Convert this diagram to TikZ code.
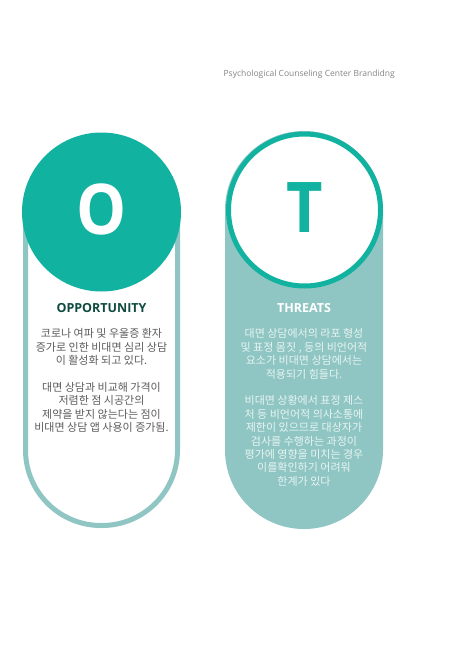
\documentclass[tikz,border=0pt]{standalone}
\usepackage{fontspec}
\setmainfont{Open Sans}
\newfontfamily\kofont{Noto Sans CJK KR}
\usepackage{xcolor}
\usetikzlibrary{positioning}
\definecolor{swotteal}{HTML}{12B2A0}
\definecolor{swotpale}{HTML}{8FC6C3}
\definecolor{swotdark}{HTML}{0E4A40}
\definecolor{swotgray}{HTML}{5C5C5C}
\definecolor{swotlight}{HTML}{E8F4F2}
\tikzset{
  letterdisc/.style={
    circle,
    fill=swotteal,
    draw=none,
    minimum size=159pt,
    inner sep=0pt,
  },
  letterring/.style={
    circle,
    fill=white,
    draw=swotteal,
    line width=5pt,
    minimum size=152pt,
    inner sep=0pt,
  },
  bigletter/.style={
    font=\bfseries\fontsize{70}{70}\selectfont,
    xscale=0.9,
    transform shape,
    inner sep=0pt,
  },
  headline/.style={
    font=\bfseries\fontsize{12.5}{14}\selectfont,
    inner sep=0pt,
  },
  bodytext/.style={
    align=center,
    inner sep=0pt,
    font=\kofont\fontsize{11}{13.4}\selectfont,
  }
}

\begin{document}
\begin{tikzpicture}[x=1pt, y={(0pt,-1pt)}]
  % Page
  \fill [white] (0,0) rectangle (457,646);
  \useasboundingbox (0,0) rectangle (457,646);

  % Header
  \node [anchor=base east, inner sep=0pt, font=\fontsize{8.5}{10}\selectfont, text=black!48]
        (brand) at (395,76) {Psychological Counseling Center Brandidng};

  % Capsules
  \draw [swotpale, line width=5pt, rounded corners=75.5pt]
        (25.5,136.5) rectangle (177.5,525.5);
  \fill [swotpale, rounded corners=79pt]
        (225,131) rectangle (383,529);

  % Opportunity
  \node [letterdisc] (oppDisc) at (101.5,212) {};
  \node [bigletter, text=white] (oppLetter) at (101.5,209) {O};
  \node [headline, text=swotdark] (oppHead) at (101.5,308) {OPPORTUNITY};
  \node [bodytext, text=swotgray, anchor=north] (oppText) at (101.5,328.5)
        {코로나 여파 및 우울증 환자\\
         증가로 인한 비대면 심리 상담\\
         이 활성화 되고 있다.\\[13.4pt]
         대면 상담과 비교해 가격이\\
         저렴한 점 시공간의\\
         제약을 받지 않는다는 점이\\
         비대면 상담 앱 사용이 증가됨.};

  % Threats
  \node [letterring] (thrDisc) at (304.5,210) {};
  \node [bigletter, text=swotteal] (thrLetter) at (304.5,208) {T};
  \node [headline, text=white] (thrHead) at (304,308) {THREATS};
  \node [bodytext, text=swotlight, anchor=north] (thrText) at (304,328.5)
        {대면 상담에서의 라포 형성\\
         및 표정 몸짓 , 등의 비언어적\\
         요소가 비대면 상담에서는\\
         적용되기 힘들다.\\[13.4pt]
         비대면 상황에서 표정 제스\\
         처 등 비언어적 의사소통에\\
         제한이 있으므로 대상자가\\
         검사를 수행하는 과정이\\
         평가에 영향을 미치는 경우\\
         이를확인하기 어려워\\
         한계가 있다};
\end{tikzpicture}
\end{document}
